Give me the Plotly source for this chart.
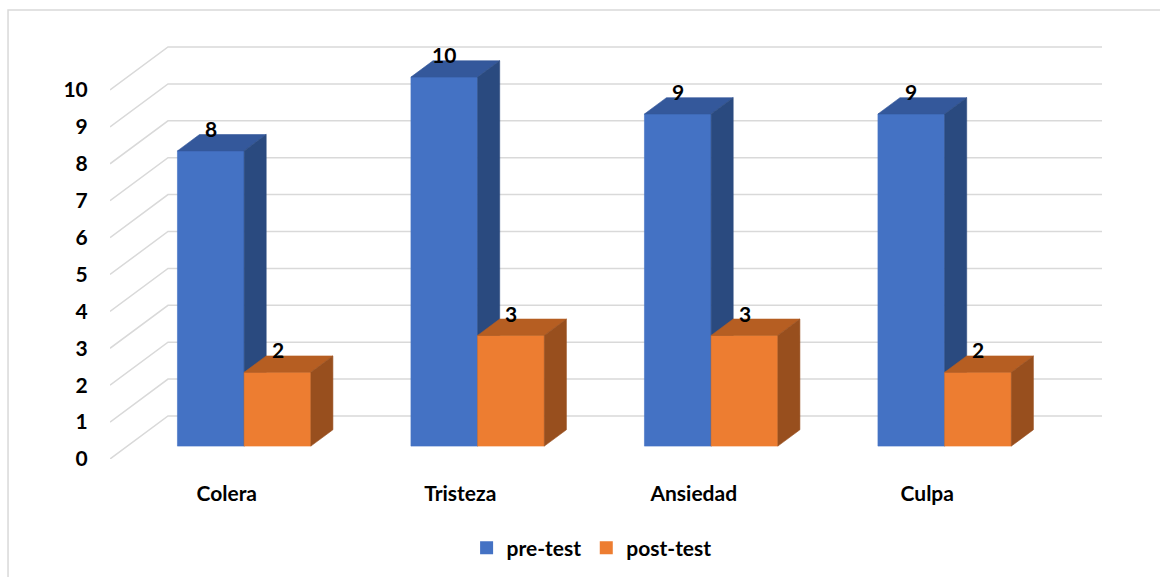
import plotly.graph_objects as go

# Chart data
categories = ["Colera", "Tristeza", "Ansiedad", "Culpa"]
pre_test = [8, 10, 9, 9]
post_test = [2, 3, 3, 2]
series_names = ["pre-test", "post-test"]
y_ticks = list(range(0, 11))

# Face colours: front, top, side
PALETTE = {
    "pre-test": ("#4472C4", "#34589B", "#2A4A7F"),
    "post-test": ("#ED7D31", "#B65E22", "#984F1E"),
}

# Oblique projection of the depth axis, in data units
DX = 0.2484          # horizontal shift of full depth (category units)
DY = 1.1653          # vertical shift of full depth (value units)
BAR_D0 = 0.30        # depth fraction where bars start
BAR_DEPTH = 0.38     # depth fraction occupied by bars
BAR_W = 1 / 3.5      # 150% gap width
N = len(categories)

FONT = dict(family="Lato", size=21, color="black", weight="bold")
GRID = "#D9D9D9"

fig = go.Figure()

# Back wall and side wall gridlines
gx, gy = [], []
for v in y_ticks:
    gx += [0, DX, N + DX, None]
    gy += [v, v + DY, v + DY, None]
fig.add_trace(go.Scatter(x=gx, y=gy, mode="lines",
                         line=dict(color=GRID, width=1.5),
                         hoverinfo="skip", showlegend=False))


def poly(xs, ys, color):
    fig.add_trace(go.Scatter(
        x=xs + [xs[0]], y=ys + [ys[0]], mode="lines", fill="toself",
        fillcolor=color, line=dict(color=color, width=0.6),
        hoverinfo="skip", showlegend=False))


annotations = []
ddx, ddy = BAR_DEPTH * DX, BAR_DEPTH * DY
for i in range(N):
    for s, (name, vals) in enumerate(zip(series_names, [pre_test, post_test])):
        front, top, side = PALETTE[name]
        v = vals[i]
        xl = i + 0.5 - BAR_W + s * BAR_W + BAR_D0 * DX
        xr = xl + BAR_W
        yb = BAR_D0 * DY
        yt = yb + v
        poly([xl, xr, xr, xl], [yb, yb, yt, yt], front)
        poly([xl, xr, xr + ddx, xl + ddx], [yt, yt, yt + ddy, yt + ddy], top)
        poly([xr, xr + ddx, xr + ddx, xr], [yb, yb + ddy, yt + ddy, yt], side)
        annotations.append(dict(
            x=(xl + xr) / 2, y=yt + ddy, text=str(v), showarrow=False,
            xanchor="center", yanchor="middle", yshift=6, font=FONT))

# Legend entries
for name in series_names:
    fig.add_trace(go.Scatter(
        x=[None], y=[None], mode="markers", name=name,
        marker=dict(symbol="square", size=13, color=PALETTE[name][0])))

fig.update_layout(
    width=1160, height=577,
    margin=dict(l=110, r=58, t=30, b=118),
    paper_bgcolor="white", plot_bgcolor="white",
    font=FONT,
    annotations=annotations,
    showlegend=True,
    legend=dict(orientation="h", xref="container", yref="container",
                x=0.51, y=0.05, xanchor="center", yanchor="middle",
                font=FONT, itemwidth=30, tracegroupgap=0),
    xaxis=dict(range=[0, N + DX], tickvals=[i + 0.5 for i in range(N)],
               ticktext=categories, showgrid=False, zeroline=False,
               showline=False, ticks="outside", ticklen=16,
               tickcolor="rgba(0,0,0,0)", fixedrange=True),
    yaxis=dict(range=[0, 429 / 36.9], tickvals=y_ticks,
               showgrid=False, zeroline=False, showline=False,
               ticks="outside", ticklen=17, tickcolor="rgba(0,0,0,0)",
               fixedrange=True),
    shapes=[dict(type="rect", xref="paper", yref="paper",
                 x0=-0.1028, x1=1.2, y0=-0.45, y1=1.0466,
                 line=dict(color="#D9D9D9", width=1.5), layer="below")],
)

fig.write_html("out.html")
